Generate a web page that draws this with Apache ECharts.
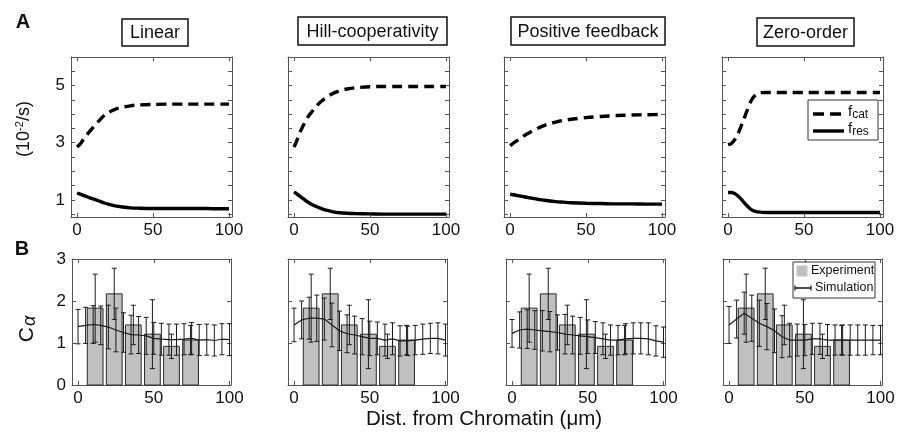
<!DOCTYPE html>
<html>
<head>
<meta charset="utf-8">
<script src="https://cdn.jsdelivr.net/npm/echarts@6/dist/echarts.min.js"></script>
<style>
html,body{margin:0;padding:0;background:#fff;}
#chart{width:912px;height:432px;}
</style>
</head>
<body>
<div id="chart"></div>
<script>
// ---------- DATA ----------
const panelTitles = ['Linear', 'Hill-cooperativity', 'Positive feedback', 'Zero-order'];
const xTicks = [0, 50, 100];
const topYTicks = [1, 3, 5];
const topYMinor = [0.5, 1, 1.5, 2, 2.5, 3, 3.5, 4, 4.5, 5, 5.5];
const bottomYTicks = [0, 1, 2, 3];

// Panel A curves (x in µm, values in 10^-2/s)
const curveX = [0, 2, 4, 6, 8, 10, 12, 15, 18, 21, 25, 30, 35, 40, 50, 60, 70, 80, 90, 100];
const linearCat = [2.85, 2.95, 3.1, 3.25, 3.38, 3.5, 3.62, 3.8, 3.96, 4.07, 4.17, 4.24, 4.29, 4.32, 4.34, 4.35, 4.35, 4.35, 4.35, 4.35];
const linearRes = [1.24, 1.2, 1.16, 1.12, 1.08, 1.04, 1.01, 0.95, 0.89, 0.84, 0.79, 0.75, 0.72, 0.71, 0.7, 0.7, 0.7, 0.7, 0.69, 0.69];
const hillCat = [2.85, 3.1, 3.38, 3.6, 3.8, 3.97, 4.1, 4.3, 4.45, 4.58, 4.71, 4.82, 4.88, 4.92, 4.96, 4.97, 4.97, 4.97, 4.97, 4.97];
const hillRes = [1.28, 1.2, 1.12, 1.04, 0.96, 0.89, 0.83, 0.76, 0.69, 0.64, 0.59, 0.55, 0.53, 0.52, 0.51, 0.5, 0.5, 0.5, 0.5, 0.5];
const posCat = [2.9, 2.98, 3.05, 3.12, 3.2, 3.27, 3.33, 3.42, 3.5, 3.57, 3.65, 3.72, 3.78, 3.82, 3.88, 3.92, 3.95, 3.97, 3.98, 3.99];
const posRes = [1.2, 1.18, 1.16, 1.14, 1.12, 1.1, 1.08, 1.05, 1.02, 1.0, 0.97, 0.94, 0.92, 0.9, 0.88, 0.87, 0.86, 0.86, 0.85, 0.85];
const zeroCat = [2.93, 2.97, 3.08, 3.25, 3.5, 3.78, 4.05, 4.45, 4.67, 4.75, 4.76, 4.76, 4.76, 4.76, 4.76, 4.76, 4.76, 4.76, 4.76, 4.76];
const zeroRes = [1.26, 1.26, 1.23, 1.16, 1.06, 0.94, 0.82, 0.67, 0.6, 0.57, 0.56, 0.56, 0.56, 0.56, 0.56, 0.56, 0.56, 0.56, 0.56, 0.56];

// Panel B: experiment (bars) and simulation (line + error bars)
const expX = [11.3, 23.9, 36.5, 49.1, 61.7, 74.3];
const expVal = [1.83, 2.17, 1.43, 1.21, 0.92, 1.07];
const expErr = [0.81, 0.61, 0.47, 0.82, 0.29, 0.35];

const simX = [0, 5, 10, 15, 20, 25, 30, 35, 40, 45, 50, 55, 60, 65, 70, 75, 80, 85, 90, 95, 100];
const linearSim = [1.39, 1.42, 1.44, 1.42, 1.38, 1.31, 1.25, 1.2, 1.19, 1.17, 1.11, 1.09, 1.08, 1.08, 1.09, 1.11, 1.07, 1.08, 1.06, 1.09, 1.08];
const linearSimErr = [0.41, 0.43, 0.45, 0.46, 0.52, 0.52, 0.47, 0.46, 0.44, 0.44, 0.38, 0.38, 0.37, 0.37, 0.37, 0.38, 0.37, 0.37, 0.37, 0.37, 0.38];
const hillSim = [1.43, 1.55, 1.59, 1.59, 1.57, 1.43, 1.29, 1.22, 1.19, 1.15, 1.11, 1.11, 1.07, 1.1, 1.05, 1.05, 1.07, 1.09, 1.11, 1.11, 1.07];
const hillSimErr = [0.4, 0.45, 0.5, 0.55, 0.5, 0.52, 0.47, 0.45, 0.45, 0.43, 0.41, 0.39, 0.38, 0.38, 0.36, 0.35, 0.35, 0.36, 0.36, 0.37, 0.38];
const posSim = [1.23, 1.31, 1.33, 1.31, 1.29, 1.27, 1.25, 1.21, 1.19, 1.17, 1.15, 1.13, 1.1, 1.07, 1.07, 1.1, 1.11, 1.11, 1.1, 1.05, 1.02];
const posSimErr = [0.33, 0.43, 0.46, 0.46, 0.48, 0.48, 0.42, 0.47, 0.45, 0.44, 0.4, 0.38, 0.38, 0.36, 0.35, 0.36, 0.37, 0.37, 0.38, 0.36, 0.36];
const zeroSim = [1.43, 1.57, 1.71, 1.59, 1.47, 1.39, 1.29, 1.15, 1.07, 1.07, 1.07, 1.1, 1.1, 1.07, 1.07, 1.07, 1.07, 1.07, 1.07, 1.07, 1.07];
const zeroSimErr = [0.44, 0.45, 0.5, 0.55, 0.55, 0.55, 0.52, 0.5, 0.4, 0.38, 0.37, 0.37, 0.37, 0.37, 0.36, 0.36, 0.36, 0.36, 0.36, 0.35, 0.35];

const catSets = [linearCat, hillCat, posCat, zeroCat];
const resSets = [linearRes, hillRes, posRes, zeroRes];
const simSets = [linearSim, hillSim, posSim, zeroSim];
const simErrSets = [linearSimErr, hillSimErr, posSimErr, zeroSimErr];

// ---------- LAYOUT / STYLE ----------
const FONT = 'Liberation Sans, Arial, Helvetica, sans-serif';
const FRAME = '#555';
const BAR_W = 10.4; // bar width in data units
const topLefts = [71, 288, 504, 722];
const botLefts = [72, 288, 506, 723];

const grids = [], xAxes = [], yAxes = [], series = [];

function addPanel(left, top, width, height, xmin, xmax, ymin, ymax, yTickVals, yLabelVals, showYLabels) {
  const gi = grids.length;
  grids.push({left: left, top: top, width: width, height: height, show: false});
  const common = {
    gridIndex: gi, type: 'value', min: xmin, max: xmax,
    axisLine: {show: true, onZero: false, lineStyle: {color: FRAME, width: 1}},
    splitLine: {show: false},
    axisTick: {show: true, inside: true, length: 4, customValues: xTicks, lineStyle: {color: FRAME}}
  };
  const xb = xAxes.length;
  xAxes.push(Object.assign({}, common, {position: 'bottom',
    axisLabel: {show: true, customValues: xTicks, margin: 5, fontSize: 17, color: '#111', fontFamily: FONT}}));
  xAxes.push(Object.assign({}, common, {position: 'top', axisLabel: {show: false}}));
  const ycommon = {
    gridIndex: gi, type: 'value', min: ymin, max: ymax,
    axisLine: {show: true, onZero: false, lineStyle: {color: FRAME, width: 1}},
    splitLine: {show: false},
    axisTick: {show: true, inside: true, length: 4, customValues: yTickVals, lineStyle: {color: FRAME}}
  };
  const yl = yAxes.length;
  yAxes.push(Object.assign({}, ycommon, {position: 'left',
    axisLabel: {show: showYLabels, customValues: yLabelVals, margin: 6, fontSize: 17, color: '#111', fontFamily: FONT}}));
  yAxes.push(Object.assign({}, ycommon, {position: 'right', axisLabel: {show: false}}));
  return {xi: xb, yi: yl};
}

function pairs(xs, ys) { return xs.map((x, i) => [x, ys[i]]); }

function renderBar(params, api) {
  const x = api.value(0), y = api.value(1);
  const p0 = api.coord([x - BAR_W / 2, y]);
  const p1 = api.coord([x + BAR_W / 2, 0]);
  return {type: 'rect', shape: {x: p0[0], y: p0[1], width: p1[0] - p0[0], height: p1[1] - p0[1]},
    style: {fill: '#c0c0c0', stroke: '#2a2a2a', lineWidth: 1}};
}
function renderErr(params, api) {
  const x = api.value(0), y = api.value(1), e = api.value(2);
  const hi = api.coord([x, y + e]);
  const lo = api.coord([x, y - e]);
  const c = 2.5;
  const st = {stroke: '#1a1a1a', lineWidth: 1};
  return {type: 'group', children: [
    {type: 'line', shape: {x1: hi[0], y1: hi[1], x2: lo[0], y2: lo[1]}, style: st},
    {type: 'line', shape: {x1: hi[0] - c, y1: hi[1], x2: hi[0] + c, y2: hi[1]}, style: st},
    {type: 'line', shape: {x1: lo[0] - c, y1: lo[1], x2: lo[0] + c, y2: lo[1]}, style: st}
  ]};
}

for (let p = 0; p < 4; p++) {
  // Panel A
  const a = addPanel(topLefts[p], 57, 161, 160, -4, 102, 0.4, 6, topYMinor, topYTicks, p === 0);
  series.push({type: 'line', xAxisIndex: a.xi, yAxisIndex: a.yi, data: pairs(curveX, catSets[p]),
    smooth: 0.3, showSymbol: false, symbol: 'none',
    lineStyle: {color: '#000', width: 3.4, type: [10, 6]}});
  series.push({type: 'line', xAxisIndex: a.xi, yAxisIndex: a.yi, data: pairs(curveX, resSets[p]),
    smooth: 0.3, showSymbol: false, symbol: 'none',
    lineStyle: {color: '#000', width: 3.4}});
}
for (let p = 0; p < 4; p++) {
  // Panel B
  const b = addPanel(botLefts[p], 259, 159, 126, -4, 101, 0, 3, bottomYTicks, bottomYTicks, p === 0);
  series.push({type: 'custom', xAxisIndex: b.xi, yAxisIndex: b.yi, renderItem: renderBar, z: 1,
    data: expX.map((x, i) => [x, expVal[i]])});
  series.push({type: 'custom', xAxisIndex: b.xi, yAxisIndex: b.yi, renderItem: renderErr, z: 3,
    data: expX.map((x, i) => [x, expVal[i], expErr[i]])});
  series.push({type: 'custom', xAxisIndex: b.xi, yAxisIndex: b.yi, renderItem: renderErr, z: 3,
    data: simX.map((x, i) => [x, simSets[p][i], simErrSets[p][i]])});
  series.push({type: 'line', xAxisIndex: b.xi, yAxisIndex: b.yi, data: pairs(simX, simSets[p]),
    showSymbol: false, symbol: 'none', z: 4,
    lineStyle: {color: '#1a1a1a', width: 1.2}});
}

// ---------- GRAPHIC TEXT / LEGENDS ----------
const titleBoxes = [[122, 19, 66, 27], [298, 17, 149, 28], [511, 17, 154, 28], [757, 18, 97, 28]];
const graphic = [];
titleBoxes.forEach((b, i) => {
  graphic.push({type: 'rect', shape: {x: b[0], y: b[1], width: b[2], height: b[3]},
    style: {fill: '#fff', stroke: '#111', lineWidth: 1.5}, silent: true});
  graphic.push({type: 'text', x: b[0] + b[2] / 2, y: b[1] + b[3] / 2 + 1,
    style: {text: panelTitles[i], font: '18px ' + FONT, fill: '#111', align: 'center', verticalAlign: 'middle'}});
});
graphic.push({type: 'text', x: 23, y: 22, style: {text: 'A', font: 'bold 20px ' + FONT, fill: '#111', align: 'center', verticalAlign: 'middle'}});
graphic.push({type: 'text', x: 22, y: 249, style: {text: 'B', font: 'bold 20px ' + FONT, fill: '#111', align: 'center', verticalAlign: 'middle'}});
graphic.push({type: 'text', x: 24, y: 129, rotation: Math.PI / 2,
  style: {text: '(10{s|-2}/s)', font: '18px ' + FONT, fill: '#111', align: 'center', verticalAlign: 'middle',
    rich: {s: {fontSize: 11, fontFamily: FONT, verticalAlign: 'top', padding: [0, 0, 8, 0]}}}});
graphic.push({type: 'text', x: 27, y: 329, rotation: Math.PI / 2,
  style: {text: 'C{a|α}', font: '21px ' + FONT, fill: '#111', align: 'center', verticalAlign: 'middle',
    rich: {a: {fontSize: 18, fontFamily: FONT, fontStyle: 'italic', padding: [6, 0, 0, 1]}}}});
graphic.push({type: 'text', x: 484, y: 419,
  style: {text: 'Dist. from Chromatin (μm)', font: '20.5px ' + FONT, fill: '#111', align: 'center', verticalAlign: 'middle'}});

// legend A (in Zero-order panel)
graphic.push({type: 'rect', shape: {x: 808, y: 100, width: 70, height: 40}, style: {fill: '#fff', stroke: '#333', lineWidth: 1}});
graphic.push({type: 'line', shape: {x1: 813, y1: 114, x2: 844, y2: 114}, style: {stroke: '#000', lineWidth: 3.4, lineDash: [11, 6]}});
graphic.push({type: 'line', shape: {x1: 813, y1: 131, x2: 844, y2: 131}, style: {stroke: '#000', lineWidth: 3.4}});
graphic.push({type: 'text', x: 848, y: 112, style: {text: 'f{s|cat}', font: '15px ' + FONT, fill: '#111', verticalAlign: 'middle',
  rich: {s: {fontSize: 12, fontFamily: FONT, padding: [5, 0, 0, 0]}}}});
graphic.push({type: 'text', x: 848, y: 129, style: {text: 'f{s|res}', font: '15px ' + FONT, fill: '#111', verticalAlign: 'middle',
  rich: {s: {fontSize: 12, fontFamily: FONT, padding: [5, 0, 0, 0]}}}});

// legend B (in Zero-order panel)
graphic.push({type: 'rect', shape: {x: 793, y: 262, width: 82, height: 36}, style: {fill: '#fff', stroke: '#333', lineWidth: 1}});
graphic.push({type: 'rect', shape: {x: 797, y: 266, width: 10, height: 10}, style: {fill: '#c0c0c0', stroke: '#c0c0c0'}});
graphic.push({type: 'text', x: 811, y: 271, style: {text: 'Experiment', font: '12.5px ' + FONT, fill: '#111', verticalAlign: 'middle'}});
graphic.push({type: 'line', shape: {x1: 795, y1: 288, x2: 811, y2: 288}, style: {stroke: '#111', lineWidth: 1.5}});
graphic.push({type: 'line', shape: {x1: 795, y1: 285.5, x2: 795, y2: 290.5}, style: {stroke: '#111', lineWidth: 1.2}});
graphic.push({type: 'line', shape: {x1: 811, y1: 285.5, x2: 811, y2: 290.5}, style: {stroke: '#111', lineWidth: 1.2}});
graphic.push({type: 'text', x: 815, y: 288, style: {text: 'Simulation', font: '12.5px ' + FONT, fill: '#111', verticalAlign: 'middle'}});

const chart = echarts.init(document.getElementById('chart'), null, {renderer: 'canvas'});
chart.setOption({
  animation: false,
  backgroundColor: '#fff',
  textStyle: {fontFamily: FONT},
  grid: grids,
  xAxis: xAxes,
  yAxis: yAxes,
  series: series,
  graphic: graphic
});
</script>
</body>
</html>
